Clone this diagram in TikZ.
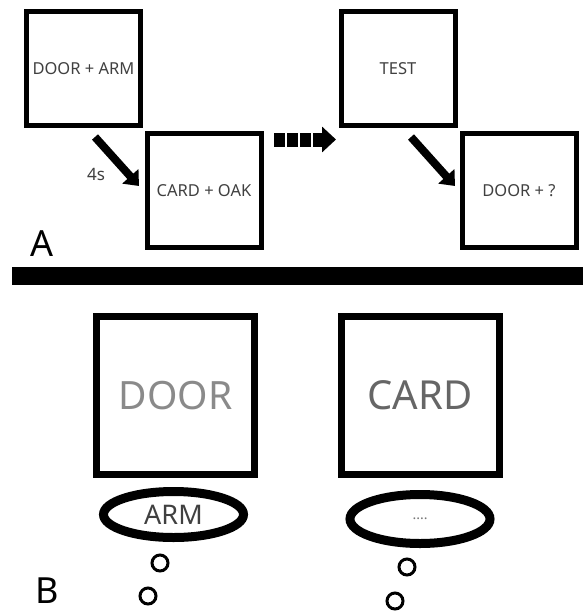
\documentclass[tikz,border=0pt]{standalone}
\usepackage{fontspec}
\setmainfont{Noto Sans}
\usetikzlibrary{arrows.meta,shapes.geometric}
\definecolor{txtgray}{HTML}{404040}
\definecolor{doorgray}{HTML}{8A8A8A}
\definecolor{cardgray}{HTML}{666666}
\definecolor{dotgray}{HTML}{777777}

\begin{document}
\begin{tikzpicture}[x=1pt,y=-1pt]
		\tikzstyle{trial}=[draw,line width=5pt,minimum size=114pt,inner sep=0pt,font=\fontsize{16.5}{16.5}\selectfont,text=txtgray]
		\tikzstyle{cue}=[draw,line width=7pt,minimum size=158pt,inner sep=0pt,font=\fontsize{39}{39}\selectfont]
		\tikzstyle{thought}=[ellipse,draw,line width=9pt,minimum width=140pt,minimum height=46pt,inner sep=0pt]
		\tikzstyle{bubble}=[circle,draw,line width=3pt,minimum size=16pt,inner sep=0pt]
		\tikzstyle{panel}=[font=\fontsize{36}{36}\selectfont,inner sep=0pt]
		\tikzstyle{jump}=[line width=8pt,-{Triangle[length=13pt,width=21pt]}]

		\useasboundingbox (0,0) rectangle (583,613);

		% study phase and test
		\node (pair1) at (83.5,68.5) [trial] {DOOR + ARM};
		\node (pair2) at (204,190.5) [trial] {CARD + OAK};
		\node (test) at (398,68.5) [trial] {TEST};
		\node (probe) at (519,190.5) [trial] {DOOR + ?};

		\coordinate (go1) at (95,137);
		\coordinate (to1) at (139,186);
		\coordinate (go2) at (411,137);
		\coordinate (to2) at (455,186);
		\coordinate (gap1) at (274,139.5);
		\coordinate (gap2) at (336,139.5);

		\path [jump] (go1) edge (to1);
		\path [jump] (go2) edge (to2);
		\draw [line width=14pt,dash pattern=on 10.5pt off 2.5pt,-{Triangle[length=14pt,width=25pt]}] (gap1) -- (gap2);

		\node (delay) at (96,174) [font=\fontsize{17}{17}\selectfont,text=txtgray] {4s};
		\node (labA) at (42,244) [panel] {A};

		\fill (12,267) rectangle (583,285);

		% cue and recall
		\node (cue1) at (175.5,395.5) [cue,text=doorgray] {DOOR};
		\node (cue2) at (420,395.5) [cue,text=cardgray,font=\fontsize{40}{40}\selectfont] {CARD};

		\node (mind1) at (173.5,514.5) [thought,font=\fontsize{27}{27}\selectfont,text=txtgray] {ARM};
		\node (mind2) at (420,519) [thought,minimum height=49pt,font=\fontsize{14}{14}\selectfont\bfseries,text=dotgray] {....};

		\node (b11) at (160,563) [bubble] {};
		\node (b12) at (148,596) [bubble] {};
		\node (b21) at (407,567) [bubble] {};
		\node (b22) at (395,601) [bubble] {};

		\node (labB) at (47,591) [panel] {B};
\end{tikzpicture}
\end{document}
